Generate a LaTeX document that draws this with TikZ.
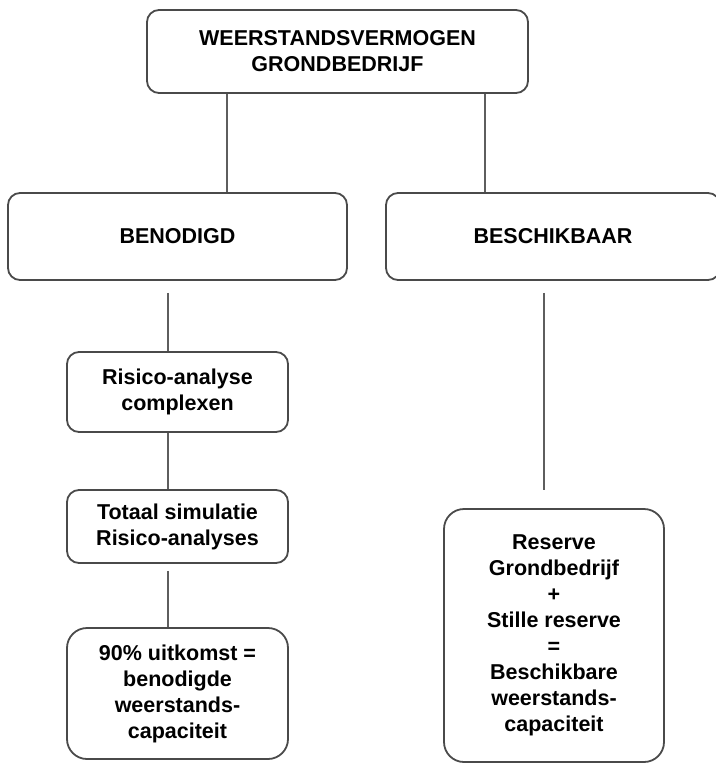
\documentclass[tikz,border=0pt]{standalone}
\usepackage{fontspec}
\setmainfont{Liberation Sans}
\begin{document}
\begin{tikzpicture}[x=1pt,y=1pt,
  box/.style={draw=linegray, line width=1.8pt, rounded corners=12pt, align=center,
    font=\fontsize{21.5}{26}\selectfont\bfseries, inner sep=0pt},
  bigbox/.style={box, rounded corners=20pt},
  conn/.style={draw=conngray, line width=2.4pt}]
\definecolor{linegray}{HTML}{4A4A4A}
\definecolor{conngray}{HTML}{5E5E5E}
\useasboundingbox (0,0) rectangle (715,-767);
\node[box, minimum width=381pt, minimum height=83pt] (top) at (337.5,-51.5) {WEERSTANDSVERMOGEN\\GRONDBEDRIJF};
\node[box, minimum width=339pt, minimum height=87pt] (ben) at (177.5,-236.5) {BENODIGD};
\node[box, minimum width=334pt, minimum height=87pt] (bes) at (553,-236.5) {BESCHIKBAAR};
\node[box, minimum width=221pt, minimum height=80pt] (ris) at (177.5,-392) {Risico-analyse\\complexen};
\node[box, minimum width=221pt, minimum height=73pt] (tot) at (177.5,-526.5) {Totaal simulatie\\Risico-analyses};
\node[bigbox, minimum width=221pt, minimum height=131pt] (uit) at (177.5,-693.5) {90\% uitkomst =\\benodigde\\weerstands-\\capaciteit};
\node[bigbox, minimum width=220pt, minimum height=253pt] (res) at (554,-635.5) {Reserve\\Grondbedrijf\\+\\Stille reserve\\=\\Beschikbare\\weerstands-\\capaciteit};
\coordinate (xa) at (227,0);
\coordinate (xb) at (485,0);
\coordinate (xc) at (168,0);
\coordinate (xd) at (544,0);
\draw[conn] (top.south -| xa) -- (ben.north -| xa);
\draw[conn] (top.south -| xb) -- (bes.north -| xb);
\draw[conn, shorten <=12pt] (ben.south -| xc) -- (ris.north -| xc);
\draw[conn] (ris.south -| xc) -- (tot.north -| xc);
\draw[conn, shorten <=7pt] (tot.south -| xc) -- (uit.north -| xc);
\draw[conn, shorten <=12pt, shorten >=18pt] (bes.south -| xd) -- (res.north -| xd);
\end{tikzpicture}
\end{document}
